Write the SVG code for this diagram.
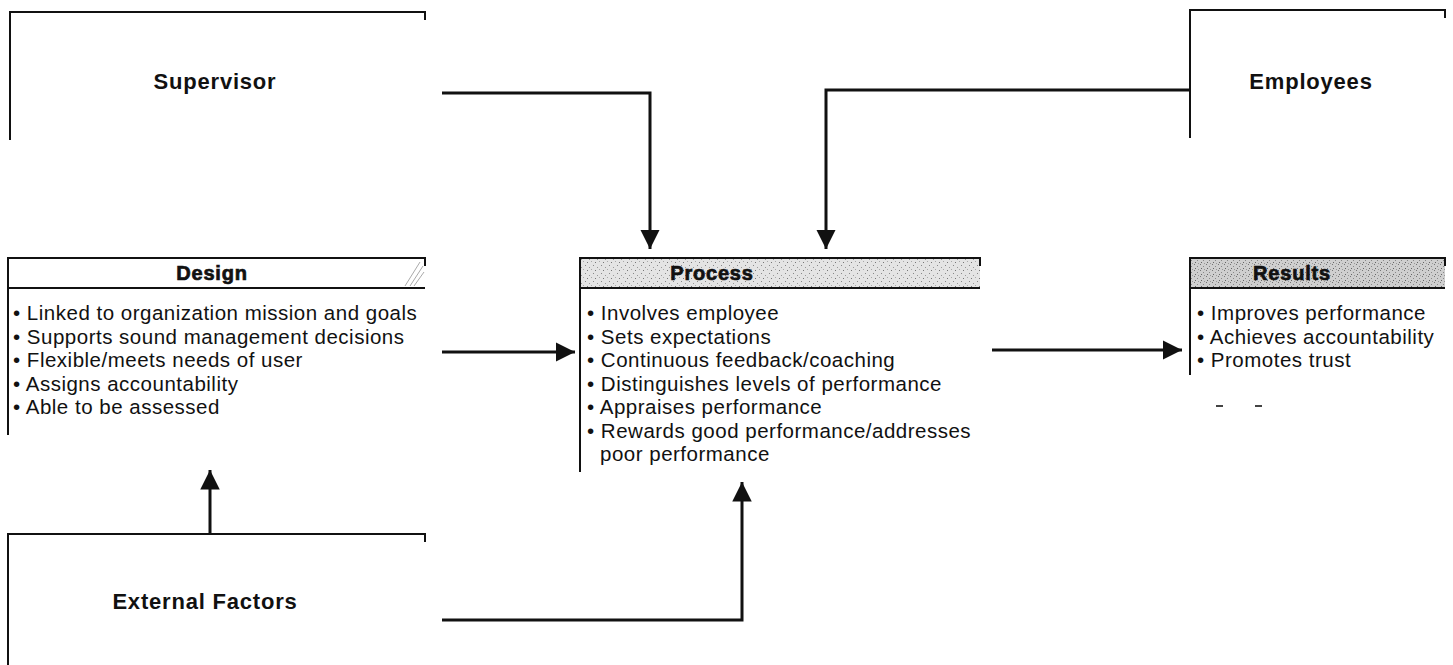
<svg xmlns="http://www.w3.org/2000/svg" width="1453" height="665" viewBox="0 0 1453 665">
<defs>
<style>
.frame{fill:none;stroke:#111;stroke-width:2}
.conn{fill:none;stroke:#111;stroke-width:3}
.title{font-family:"Liberation Sans",Arial,sans-serif;font-weight:bold;font-size:22px;letter-spacing:0.8px;fill:#111;text-anchor:middle}
.head{font-family:"Liberation Sans",Arial,sans-serif;font-weight:bold;font-size:20px;letter-spacing:0.8px;fill:#111;stroke:#111;stroke-width:0.7px;text-anchor:middle}
.item{font-family:"Liberation Sans",Arial,sans-serif;font-size:20.5px;letter-spacing:0.5px;fill:#111}
</style>
<pattern id="stip" width="8" height="8" patternUnits="userSpaceOnUse">
<rect width="8" height="8" fill="#e4e4e4"/>
<rect x="1" y="1" width="1" height="1" fill="#888"/>
<rect x="5" y="3" width="1" height="1" fill="#999"/>
<rect x="3" y="6" width="1" height="1" fill="#777"/>
<rect x="7" y="5" width="1" height="1" fill="#aaa"/>
</pattern>
<pattern id="stipdark" width="6" height="6" patternUnits="userSpaceOnUse">
<rect width="6" height="6" fill="#cfcfcf"/>
<rect x="0" y="0" width="1" height="1" fill="#777"/>
<rect x="3" y="2" width="1" height="1" fill="#888"/>
<rect x="1" y="4" width="1" height="1" fill="#666"/>
<rect x="4" y="5" width="1" height="1" fill="#999"/>
</pattern>
<marker id="arr" viewBox="0 0 10 10" refX="10" refY="5" markerWidth="6.5" markerHeight="6.5" markerUnits="strokeWidth" orient="auto">
<path d="M0,0 L10,5 L0,10 Z" fill="#111"/>
</marker>
</defs>
<rect width="1453" height="665" fill="#fff"/>

<g id="supervisor">
<path class="frame" d="M10,140 V12 H425 V20"/>
<text class="title" x="215" y="89">Supervisor</text>
</g>

<g id="employees">
<path class="frame" d="M1190,138 V10 H1445 V18"/>
<text class="title" x="1311" y="89">Employees</text>
</g>

<g id="design">
<rect x="8" y="258" width="417" height="30" fill="#fff"/>
<path d="M405,286 L420,262 M410,286 L423,266 M414,286 L424,272" stroke="#aaa" stroke-width="1" fill="none"/>
<path class="frame" d="M8,435 V258 H425 V266 M8,288 H425"/>
<text class="head" x="212" y="280">Design</text>
<text class="item" x="13" y="320">• Linked to organization mission and goals</text>
<text class="item" x="13" y="343.5">• Supports sound management decisions</text>
<text class="item" x="13" y="367">• Flexible/meets needs of user</text>
<text class="item" x="13" y="390.5">• Assigns accountability</text>
<text class="item" x="13" y="414">• Able to be assessed</text>
</g>

<g id="process">
<rect x="580" y="258" width="400" height="30" fill="url(#stip)"/>
<path class="frame" d="M580,472 V258 H980 V266 M580,288 H980"/>
<text class="head" x="712" y="280">Process</text>
<text class="item" x="587" y="320">• Involves employee</text>
<text class="item" x="587" y="343.5">• Sets expectations</text>
<text class="item" x="587" y="367">• Continuous feedback/coaching</text>
<text class="item" x="587" y="390.5">• Distinguishes levels of performance</text>
<text class="item" x="587" y="414">• Appraises performance</text>
<text class="item" x="587" y="437.5">• Rewards good performance/addresses</text>
<text class="item" x="600" y="461">poor performance</text>
</g>

<g id="results">
<rect x="1190" y="258" width="255" height="30" fill="url(#stipdark)"/>
<path class="frame" d="M1190,375 V258 H1445 V266 M1190,288 H1445"/>
<text class="head" x="1292" y="280">Results</text>
<text class="item" x="1197" y="320">• Improves performance</text>
<text class="item" x="1197" y="343.5">• Achieves accountability</text>
<text class="item" x="1197" y="367">• Promotes trust</text>
<rect x="1216" y="405" width="7" height="2" fill="#444"/>
<rect x="1255" y="405" width="7" height="2" fill="#444"/>
</g>

<g id="external-factors">
<path class="frame" d="M8,665 V534 H425 V542"/>
<text class="title" x="205" y="609">External Factors</text>
</g>

<g id="connectors">
<path class="conn" d="M442,93 H650 V249" marker-end="url(#arr)"/>
<path class="conn" d="M1190,90 H826 V249" marker-end="url(#arr)"/>
<path class="conn" d="M442,352 H575" marker-end="url(#arr)"/>
<path class="conn" d="M992,350 H1182" marker-end="url(#arr)"/>
<path class="conn" d="M210,534 V470" marker-end="url(#arr)"/>
<path class="conn" d="M442,620 H742 V482" marker-end="url(#arr)"/>
</g>
</svg>
